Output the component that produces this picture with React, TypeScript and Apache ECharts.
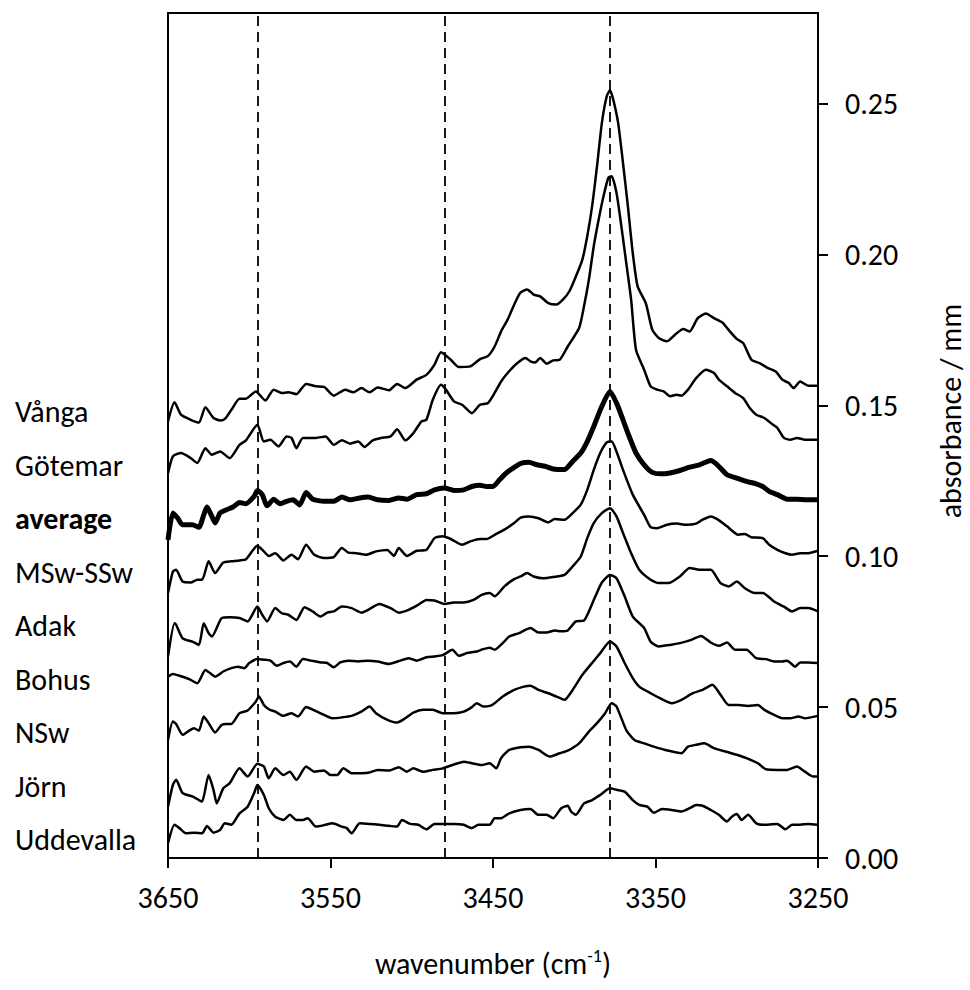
import React, { useEffect, useRef } from "react";
import * as echarts from "echarts";

const FONT = 'Carlito, Calibri, Lato, "Noto Sans", sans-serif';

const seriesNames = ["Vånga", "Götemar", "average", "MSw-SSw", "Adak", "Bohus", "NSw", "Jörn", "Uddevalla"];
const xTicks = [3250, 3350, 3450, 3550, 3650];
const yTicks = [0, 0.05, 0.1, 0.15, 0.2, 0.25];
const dashedAt = [3595, 3480, 3378];

const vanga: [number, number][] = [
  [3650,0.1447],[3646,0.1510],[3642,0.1469],[3636,0.1452],[3631,0.1443],[3627,0.1494],[3622,0.1458],[3618,0.1450],[3615,0.1455],[3611,0.1485],[3606,0.1522],[3602,0.1522],[3596,0.1546],[3590,0.1516],[3585,0.1552],[3580,0.1541],[3576,0.1543],[3571,0.1537],[3565,0.1571],[3559,0.1563],[3554,0.1561],[3548,0.1532],[3541,0.1552],[3536,0.1543],[3531,0.1557],[3526,0.1543],[3521,0.1559],[3514,0.1550],[3509,0.1571],[3504,0.1557],[3497,0.1585],[3491,0.1601],[3486,0.1635],[3482,0.1676],[3476,0.1651],[3471,0.1627],[3464,0.1629],[3458,0.1653],[3453,0.1664],[3449,0.1695],[3445,0.1745],[3441,0.1784],[3436,0.1845],[3433,0.1874],[3429,0.1884],[3425,0.1867],[3421,0.1861],[3416,0.1839],[3411,0.1834],[3407,0.1850],[3403,0.1878],[3399,0.1927],[3395,0.1983],[3392,0.2060],[3389,0.2160],[3386,0.2292],[3383,0.2436],[3380,0.2524],[3378,0.2544],[3376,0.2513],[3373,0.2436],[3370,0.2303],[3367,0.2160],[3364,0.2005],[3361,0.1894],[3356,0.1839],[3352,0.1751],[3348,0.1723],[3343,0.1712],[3338,0.1734],[3333,0.1753],[3329,0.1745],[3324,0.1789],[3319,0.1804],[3314,0.1789],[3309,0.1775],[3305,0.1750],[3300,0.1720],[3296,0.1706],[3291,0.1651],[3286,0.1640],[3281,0.1624],[3276,0.1612],[3272,0.1585],[3268,0.1574],[3265,0.1557],[3261,0.1579],[3256,0.1565],[3250,0.1565]
];

const goetemar: [number, number][] = [
  [3650,0.1275],[3647,0.1331],[3642,0.1342],[3636,0.1325],[3632,0.1309],[3627,0.1358],[3623,0.1336],[3618,0.1347],[3612,0.1325],[3606,0.1369],[3602,0.1384],[3595,0.1436],[3591,0.1380],[3587,0.1386],[3582,0.1364],[3577,0.1397],[3574,0.1392],[3571,0.1358],[3567,0.1392],[3559,0.1392],[3553,0.1397],[3548,0.1369],[3543,0.1384],[3538,0.1373],[3533,0.1380],[3529,0.1362],[3524,0.1384],[3519,0.1392],[3513,0.1397],[3509,0.1421],[3504,0.1384],[3499,0.1408],[3494,0.1447],[3491,0.1452],[3487,0.1519],[3482,0.1568],[3479,0.1552],[3474,0.1513],[3469,0.1502],[3463,0.1474],[3458,0.1502],[3453,0.1508],[3449,0.1541],[3445,0.1579],[3441,0.1607],[3435,0.1640],[3430,0.1657],[3427,0.1646],[3424,0.1642],[3421,0.1657],[3417,0.1638],[3413,0.1649],[3409,0.1651],[3404,0.1695],[3397,0.1756],[3394,0.1828],[3391,0.1916],[3388,0.2027],[3385,0.2115],[3382,0.2193],[3379,0.2254],[3377,0.2259],[3374,0.2204],[3371,0.2093],[3368,0.1972],[3365,0.1850],[3362,0.1684],[3357,0.1618],[3353,0.1563],[3349,0.1552],[3345,0.1546],[3341,0.1530],[3337,0.1535],[3334,0.1532],[3330,0.1552],[3325,0.1590],[3319,0.1618],[3314,0.1607],[3311,0.1585],[3306,0.1563],[3301,0.1541],[3296,0.1524],[3292,0.1491],[3288,0.1469],[3283,0.1458],[3279,0.1441],[3275,0.1425],[3271,0.1392],[3267,0.1386],[3263,0.1392],[3258,0.1386],[3250,0.1386]
];

const average: [number, number][] = [
  [3650,0.1054],[3647,0.1143],[3644,0.1126],[3641,0.1104],[3635,0.1104],[3631,0.1096],[3628,0.1137],[3626,0.1163],[3623,0.1132],[3621,0.1110],[3618,0.1143],[3614,0.1154],[3610,0.1163],[3606,0.1178],[3602,0.1174],[3597,0.1198],[3595,0.1218],[3592,0.1204],[3589,0.1167],[3585,0.1189],[3581,0.1174],[3577,0.1182],[3573,0.1187],[3569,0.1170],[3565,0.1211],[3561,0.1189],[3554,0.1182],[3548,0.1182],[3543,0.1196],[3538,0.1187],[3532,0.1193],[3527,0.1196],[3521,0.1187],[3514,0.1185],[3508,0.1193],[3503,0.1189],[3497,0.1204],[3491,0.1207],[3486,0.1220],[3480,0.1226],[3474,0.1218],[3468,0.1220],[3463,0.1231],[3458,0.1235],[3454,0.1231],[3450,0.1231],[3446,0.1253],[3442,0.1275],[3436,0.1298],[3432,0.1309],[3428,0.1311],[3423,0.1303],[3418,0.1298],[3413,0.1289],[3406,0.1287],[3401,0.1314],[3396,0.1342],[3392,0.1380],[3388,0.1430],[3383,0.1497],[3378,0.1546],[3374,0.1508],[3370,0.1452],[3367,0.1408],[3362,0.1342],[3357,0.1303],[3352,0.1278],[3347,0.1273],[3341,0.1276],[3335,0.1284],[3329,0.1295],[3323,0.1303],[3316,0.1317],[3312,0.1303],[3306,0.1270],[3300,0.1259],[3294,0.1248],[3288,0.1240],[3284,0.1231],[3280,0.1215],[3275,0.1204],[3269,0.1189],[3263,0.1189],[3257,0.1187],[3250,0.1187]
];

const mswSsw: [number, number][] = [
  [3650,0.0878],[3647,0.0949],[3645,0.0955],[3641,0.0916],[3636,0.0913],[3632,0.0922],[3629,0.0922],[3625,0.0983],[3621,0.0944],[3616,0.0979],[3611,0.0983],[3606,0.0986],[3602,0.0990],[3595,0.1035],[3591,0.1016],[3588,0.1001],[3584,0.1010],[3579,0.0986],[3574,0.1005],[3570,0.0990],[3565,0.1038],[3560,0.1005],[3554,0.0994],[3548,0.0997],[3543,0.1027],[3539,0.1012],[3534,0.1010],[3528,0.1005],[3522,0.1016],[3515,0.1021],[3511,0.1001],[3508,0.1027],[3503,0.1001],[3497,0.1018],[3491,0.1021],[3486,0.1060],[3481,0.1066],[3476,0.1057],[3469,0.1038],[3464,0.1049],[3458,0.1057],[3454,0.1057],[3449,0.1071],[3443,0.1088],[3437,0.1110],[3433,0.1128],[3428,0.1132],[3422,0.1126],[3416,0.1112],[3412,0.1123],[3406,0.1121],[3401,0.1143],[3396,0.1171],[3392,0.1220],[3388,0.1286],[3384,0.1342],[3380,0.1377],[3377,0.1380],[3374,0.1347],[3370,0.1286],[3364,0.1204],[3357,0.1137],[3353,0.1096],[3349,0.1093],[3343,0.1104],[3337,0.1108],[3331,0.1104],[3325,0.1108],[3321,0.1121],[3316,0.1132],[3312,0.1123],[3306,0.1099],[3299,0.1071],[3295,0.1074],[3291,0.1063],[3284,0.1060],[3280,0.1038],[3275,0.1021],[3270,0.1010],[3266,0.1005],[3261,0.1010],[3256,0.1010],[3250,0.1018]
];

const adak: [number, number][] = [
  [3650,0.0668],[3646,0.0778],[3645,0.0773],[3641,0.0728],[3635,0.0717],[3631,0.0706],[3628,0.0778],[3625,0.0745],[3623,0.0734],[3617,0.0795],[3612,0.0798],[3606,0.0795],[3601,0.0784],[3595,0.0833],[3592,0.0806],[3589,0.0784],[3584,0.0828],[3580,0.0811],[3576,0.0806],[3571,0.0789],[3566,0.0831],[3561,0.0817],[3556,0.0800],[3552,0.0813],[3548,0.0817],[3543,0.0833],[3537,0.0828],[3531,0.0813],[3526,0.0825],[3520,0.0842],[3513,0.0828],[3508,0.0813],[3502,0.0822],[3496,0.0839],[3491,0.0855],[3486,0.0853],[3480,0.0842],[3474,0.0847],[3468,0.0847],[3462,0.0855],[3457,0.0872],[3452,0.0878],[3449,0.0867],[3443,0.0900],[3437,0.0924],[3433,0.0933],[3429,0.0944],[3425,0.0933],[3419,0.0927],[3413,0.0931],[3406,0.0938],[3401,0.0966],[3396,0.0999],[3392,0.1060],[3388,0.1110],[3383,0.1143],[3378,0.1159],[3374,0.1132],[3370,0.1077],[3365,0.1010],[3360,0.0955],[3353,0.0922],[3348,0.0911],[3342,0.0911],[3335,0.0933],[3329,0.0961],[3323,0.0955],[3316,0.0955],[3310,0.0911],[3305,0.0900],[3300,0.0916],[3295,0.0894],[3289,0.0878],[3284,0.0878],[3277,0.0850],[3271,0.0833],[3266,0.0817],[3261,0.0828],[3256,0.0828],[3250,0.0817]
];

const bohus: [number, number][] = [
  [3650,0.0601],[3647,0.0610],[3643,0.0604],[3637,0.0593],[3632,0.0579],[3627,0.0623],[3624,0.0612],[3621,0.0601],[3616,0.0618],[3611,0.0629],[3607,0.0634],[3603,0.0629],[3600,0.0646],[3595,0.0659],[3591,0.0657],[3587,0.0654],[3583,0.0637],[3579,0.0646],[3575,0.0651],[3571,0.0634],[3567,0.0659],[3562,0.0654],[3556,0.0648],[3552,0.0646],[3548,0.0632],[3544,0.0648],[3539,0.0654],[3533,0.0651],[3527,0.0654],[3521,0.0651],[3514,0.0643],[3507,0.0654],[3502,0.0662],[3497,0.0654],[3491,0.0665],[3486,0.0668],[3481,0.0672],[3475,0.0690],[3471,0.0670],[3466,0.0679],[3460,0.0684],[3456,0.0692],[3452,0.0697],[3449,0.0690],[3444,0.0712],[3440,0.0734],[3434,0.0745],[3427,0.0762],[3422,0.0747],[3417,0.0747],[3412,0.0754],[3408,0.0751],[3404,0.0754],[3399,0.0784],[3394,0.0787],[3391,0.0817],[3387,0.0867],[3383,0.0913],[3378,0.0938],[3374,0.0927],[3369,0.0867],[3364,0.0800],[3357,0.0762],[3353,0.0717],[3348,0.0701],[3341,0.0706],[3335,0.0712],[3328,0.0723],[3322,0.0736],[3316,0.0714],[3311,0.0703],[3306,0.0714],[3301,0.0690],[3294,0.0690],[3288,0.0662],[3282,0.0659],[3277,0.0651],[3272,0.0651],[3269,0.0654],[3264,0.0634],[3261,0.0648],[3256,0.0648],[3250,0.0646]
];

const nsw: [number, number][] = [
  [3650,0.0391],[3647,0.0452],[3645,0.0444],[3641,0.0408],[3637,0.0422],[3634,0.0430],[3631,0.0422],[3628,0.0469],[3625,0.0447],[3621,0.0416],[3617,0.0441],[3614,0.0444],[3611,0.0444],[3606,0.0480],[3601,0.0489],[3596,0.0518],[3594,0.0535],[3591,0.0507],[3588,0.0493],[3584,0.0485],[3579,0.0471],[3574,0.0480],[3570,0.0469],[3565,0.0500],[3560,0.0489],[3554,0.0474],[3549,0.0463],[3543,0.0466],[3537,0.0471],[3531,0.0485],[3526,0.0502],[3522,0.0480],[3515,0.0458],[3509,0.0449],[3504,0.0463],[3499,0.0482],[3493,0.0491],[3487,0.0491],[3481,0.0480],[3474,0.0480],[3468,0.0485],[3463,0.0500],[3460,0.0513],[3456,0.0502],[3452,0.0504],[3449,0.0513],[3444,0.0535],[3437,0.0557],[3431,0.0568],[3427,0.0571],[3422,0.0557],[3416,0.0546],[3411,0.0535],[3406,0.0524],[3401,0.0557],[3395,0.0607],[3390,0.0640],[3384,0.0679],[3378,0.0717],[3374,0.0701],[3369,0.0646],[3364,0.0596],[3360,0.0568],[3353,0.0546],[3347,0.0529],[3340,0.0513],[3334,0.0524],[3327,0.0546],[3321,0.0557],[3315,0.0574],[3310,0.0541],[3305,0.0507],[3299,0.0507],[3293,0.0504],[3287,0.0507],[3283,0.0491],[3277,0.0474],[3272,0.0463],[3267,0.0463],[3262,0.0469],[3258,0.0463],[3250,0.0471]
];

const jorn: [number, number][] = [
  [3650,0.0170],[3647,0.0242],[3645,0.0259],[3641,0.0215],[3635,0.0204],[3631,0.0192],[3629,0.0187],[3625,0.0275],[3622,0.0226],[3620,0.0181],[3616,0.0231],[3612,0.0248],[3606,0.0297],[3601,0.0270],[3595,0.0312],[3591,0.0303],[3588,0.0264],[3584,0.0297],[3579,0.0275],[3575,0.0286],[3571,0.0259],[3565,0.0303],[3560,0.0286],[3554,0.0290],[3550,0.0275],[3546,0.0275],[3542,0.0297],[3537,0.0281],[3531,0.0281],[3526,0.0283],[3521,0.0292],[3514,0.0290],[3508,0.0301],[3503,0.0286],[3499,0.0297],[3493,0.0286],[3487,0.0292],[3481,0.0297],[3475,0.0308],[3468,0.0319],[3463,0.0314],[3457,0.0308],[3452,0.0314],[3448,0.0297],[3445,0.0331],[3440,0.0358],[3433,0.0367],[3428,0.0369],[3422,0.0358],[3415,0.0336],[3409,0.0347],[3404,0.0356],[3397,0.0380],[3391,0.0419],[3386,0.0447],[3381,0.0480],[3377,0.0513],[3374,0.0502],[3368,0.0424],[3363,0.0391],[3357,0.0380],[3351,0.0369],[3344,0.0358],[3334,0.0347],[3330,0.0369],[3325,0.0375],[3320,0.0380],[3314,0.0364],[3307,0.0353],[3300,0.0342],[3294,0.0331],[3287,0.0314],[3282,0.0294],[3275,0.0292],[3269,0.0292],[3263,0.0303],[3258,0.0286],[3253,0.0270],[3250,0.0270]
];

const uddevalla: [number, number][] = [
  [3650,0.0049],[3646,0.0110],[3643,0.0099],[3639,0.0082],[3634,0.0084],[3629,0.0082],[3626,0.0106],[3622,0.0084],[3618,0.0093],[3615,0.0115],[3611,0.0110],[3606,0.0148],[3601,0.0170],[3597,0.0215],[3595,0.0242],[3591,0.0209],[3588,0.0165],[3584,0.0137],[3579,0.0126],[3575,0.0143],[3571,0.0126],[3567,0.0126],[3564,0.0132],[3559,0.0104],[3553,0.0110],[3549,0.0115],[3543,0.0104],[3540,0.0099],[3537,0.0082],[3532,0.0115],[3526,0.0113],[3520,0.0110],[3513,0.0106],[3509,0.0104],[3506,0.0126],[3501,0.0113],[3496,0.0110],[3491,0.0095],[3486,0.0113],[3481,0.0113],[3474,0.0113],[3468,0.0110],[3463,0.0099],[3459,0.0110],[3452,0.0110],[3449,0.0132],[3445,0.0132],[3440,0.0148],[3433,0.0159],[3427,0.0162],[3422,0.0143],[3417,0.0143],[3413,0.0132],[3408,0.0165],[3404,0.0173],[3402,0.0154],[3399,0.0143],[3394,0.0181],[3389,0.0192],[3384,0.0209],[3378,0.0231],[3374,0.0226],[3369,0.0220],[3364,0.0192],[3360,0.0176],[3355,0.0170],[3351,0.0150],[3346,0.0162],[3340,0.0159],[3334,0.0154],[3329,0.0165],[3325,0.0176],[3321,0.0173],[3316,0.0159],[3311,0.0143],[3306,0.0121],[3303,0.0137],[3300,0.0146],[3297,0.0126],[3293,0.0143],[3288,0.0115],[3282,0.0110],[3275,0.0113],[3270,0.0095],[3266,0.0110],[3261,0.0110],[3256,0.0113],[3250,0.0110]
];

const seriesData = [vanga, goetemar, average, mswSsw, adak, bohus, nsw, jorn, uddevalla];

export default function App() {
  const ref = useRef<HTMLDivElement>(null);
  useEffect(() => {
    document.body.style.margin = "0";
    if (!ref.current) return;
    const chart = echarts.init(ref.current, null, { renderer: "svg" });
    const labelTop = 411.7;
    const labelStep = 53.5;
    const option: any = {
      animation: false,
      backgroundColor: "#ffffff",
      grid: { left: 168, right: 152, top: 13, height: 845, show: true, borderColor: "#000", borderWidth: 2, backgroundColor: "transparent" },
      xAxis: {
        type: "value",
        min: 3250,
        max: 3650,
        inverse: true,
        axisLine: { show: true, onZero: false, lineStyle: { color: "#000", width: 2 } },
        axisTick: { show: true, inside: false, length: 10, customValues: xTicks, lineStyle: { color: "#000", width: 2 } },
        axisLabel: { customValues: xTicks, margin: 24, fontSize: 30, color: "#000", fontFamily: FONT, formatter: (v: number) => String(v) },
        splitLine: { show: false },
      },
      yAxis: {
        type: "value",
        position: "right",
        min: 0,
        max: 0.28,
        axisLine: { show: true, onZero: false, lineStyle: { color: "#000", width: 2 } },
        axisTick: { show: true, inside: false, length: 10, customValues: yTicks, lineStyle: { color: "#000", width: 2 } },
        axisLabel: { customValues: yTicks, margin: 27, fontSize: 30, color: "#000", fontFamily: FONT, formatter: (v: number) => v.toFixed(2) },
        splitLine: { show: false },
      },
      series: seriesNames.map((name, i) => ({
        name,
        type: "line",
        data: seriesData[i],
        showSymbol: false,
        symbol: "none",
        smooth: 0.2,
        lineStyle: { color: "#000", width: name === "average" ? 5 : 2.5 },
        itemStyle: { color: "#000" },
        z: name === "average" ? 3 : 2,
        markLine: i === 0 ? {
          silent: true,
          symbol: ["none", "none"],
          label: { show: false },
          lineStyle: { color: "#000", type: [10, 6], width: 1.8 },
          data: dashedAt.map((x) => ({ xAxis: x })),
        } : undefined,
      })),
      graphic: [
        ...seriesNames.map((name, i) => ({
          type: "text",
          x: 15,
          y: labelTop + i * labelStep,
          style: {
            text: name,
            fill: "#000",
            font: `${name === "average" ? "bold " : ""}30px ${FONT}`,
            align: "left",
            verticalAlign: "middle",
          },
        })),
        {
          type: "text",
          x: 950,
          y: 411,
          rotation: Math.PI / 2,
          style: { text: "absorbance / mm", fill: "#000", font: `30px ${FONT}`, align: "center", verticalAlign: "middle" },
        },
        {
          type: "text",
          x: 493,
          y: 963,
          style: {
            text: "{a|wavenumber (cm}{s|-1}{a|)}",
            align: "center",
            verticalAlign: "middle",
            rich: {
              a: { fontSize: 30, fontFamily: FONT, fill: "#000", color: "#000" },
              s: { fontSize: 18, fontFamily: FONT, fill: "#000", color: "#000", padding: [0, 0, 15, 0] },
            },
          },
        },
      ],
    };
    chart.setOption(option);
    return () => chart.dispose();
  }, []);
  return <div ref={ref} style={{ position: "absolute", left: 0, top: 0, width: 970, height: 990 }} />;
}
